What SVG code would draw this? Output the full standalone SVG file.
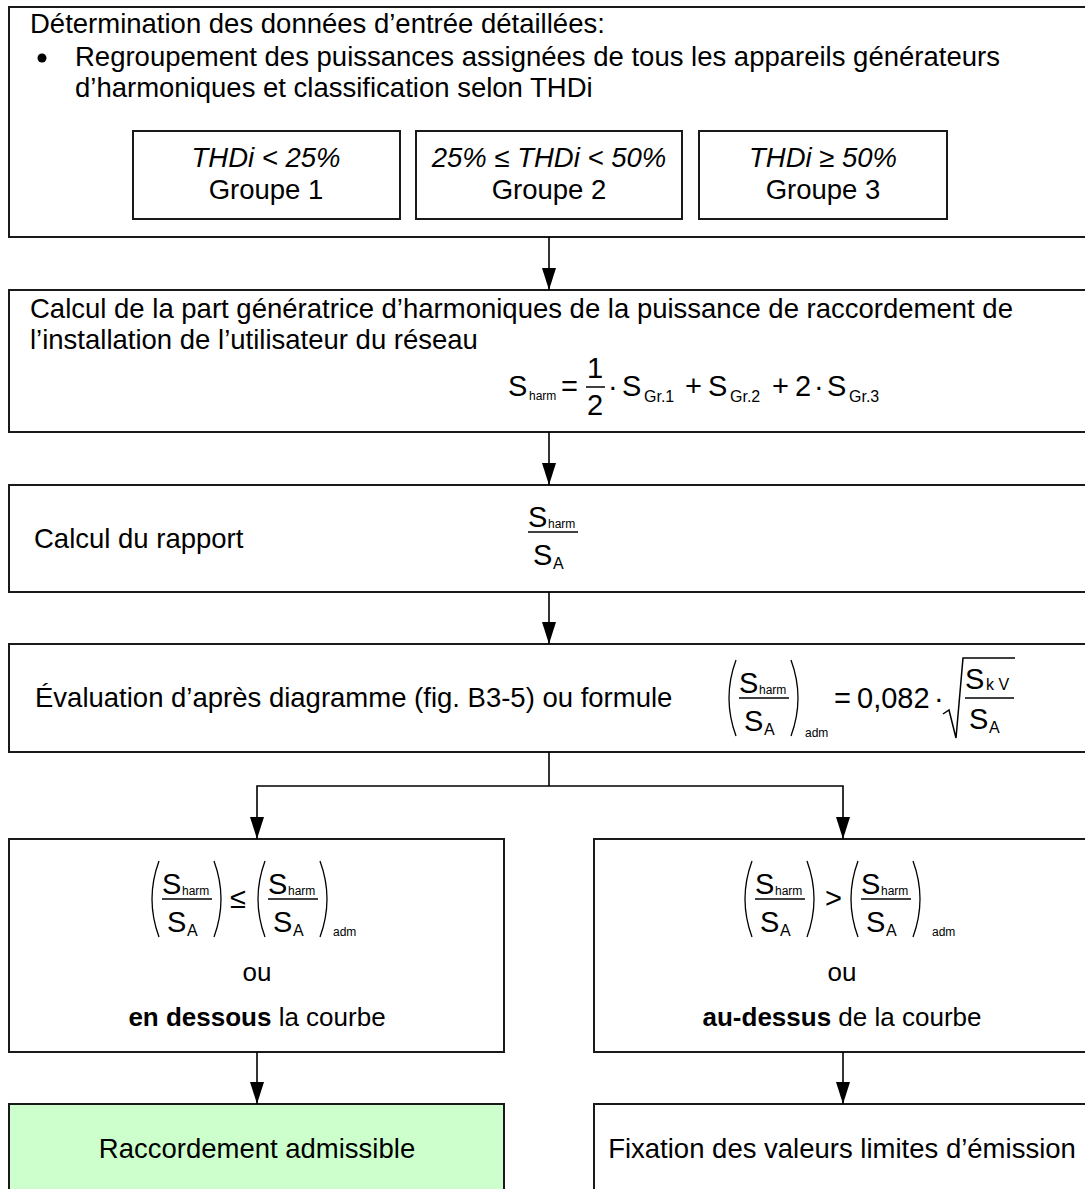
<svg xmlns="http://www.w3.org/2000/svg" xmlns:xlink="http://www.w3.org/1999/xlink" width="1085" height="1189" viewBox="0 0 1085 1189">
<style>
.box{fill:#fff;stroke:#1a1a1a;stroke-width:2}
.green{fill:#ccffcc;stroke:#1a1a1a;stroke-width:2}
.t{font-family:"Liberation Sans",Arial,sans-serif;font-size:27.5px;fill:#000}
.t2{font-family:"Liberation Sans",Arial,sans-serif;font-size:26px;fill:#000}
.i{font-style:italic}
.c{text-anchor:middle}
.b{font-weight:bold}
.m{font-family:"Liberation Sans",Arial,sans-serif;font-size:29px;fill:#000}
.s1{font-family:"Liberation Sans",Arial,sans-serif;font-size:12px;fill:#000}
.s2{font-family:"Liberation Sans",Arial,sans-serif;font-size:16px;fill:#000}
.bar{stroke:#000;stroke-width:1.5}
.par{fill:none;stroke:#000;stroke-width:1.3}
.con{fill:none;stroke:#000;stroke-width:1.6}
.arr{marker-end:url(#ah)}
</style>
<defs>
<marker id="ah" markerUnits="userSpaceOnUse" markerWidth="22" markerHeight="14" refX="22" refY="7" orient="auto">
<path d="M0,0 L22,7 L0,14 z" fill="#000"/>
</marker>
<g id="frac">
<text class="m" x="13" y="-5">S</text>
<text class="s1" x="33" y="-4">harm</text>
<line class="bar" x1="13" y1="0" x2="63" y2="0"/>
<text class="m" x="18" y="33">S</text>
<text class="s2" x="38" y="37">A</text>
</g>
<g id="ratio">
<use xlink:href="#frac"/>
<path class="par" d="M 10 -38 Q -4 0 10 38"/>
<path class="par" d="M 65 -38 Q 79 0 65 38"/>
</g>
</defs>

<rect width="1085" height="1189" fill="#fff"/>

<g id="n1">
<rect class="box" x="9" y="7" width="1090" height="230"/>
<text class="t" x="30" y="33">Détermination des données d’entrée détaillées:</text>
<circle cx="42" cy="58" r="4.5" fill="#000"/>
<text class="t" x="75" y="66">Regroupement des puissances assignées de tous les appareils générateurs</text>
<text class="t" x="75" y="97">d’harmoniques et classification selon THDi</text>
</g>
<g id="g1">
<rect class="box" x="133" y="131" width="267" height="88"/>
<text class="t i c" x="266" y="167">THDi &lt; 25%</text>
<text class="t c" x="266" y="199">Groupe 1</text>
</g>
<g id="g2">
<rect class="box" x="416" y="131" width="266" height="88"/>
<text class="t i c" x="549" y="167">25% ≤ THDi &lt; 50%</text>
<text class="t c" x="549" y="199">Groupe 2</text>
</g>
<g id="g3">
<rect class="box" x="699" y="131" width="248" height="88"/>
<text class="t i c" x="823" y="167">THDi ≥ 50%</text>
<text class="t c" x="823" y="199">Groupe 3</text>
</g>

<g id="n2">
<rect class="box" x="9" y="290" width="1090" height="142"/>
<text class="t" x="30" y="318">Calcul de la part génératrice d’harmoniques de la puissance de raccordement de</text>
<text class="t" x="30" y="349">l’installation de l’utilisateur du réseau</text>
<text class="m" x="508" y="396">S</text>
<text class="s1" x="529" y="400">harm</text>
<text class="m" x="561" y="396">=</text>
<text class="m c" x="595" y="378">1</text>
<line class="bar" x1="586" y1="387" x2="605" y2="387"/>
<text class="m c" x="595" y="415">2</text>
<text class="m" x="608" y="396">·</text>
<text class="m" x="622" y="396">S</text>
<text class="s2" x="644" y="402">Gr.1</text>
<text class="m" x="685" y="396">+</text>
<text class="m" x="708" y="396">S</text>
<text class="s2" x="730" y="402">Gr.2</text>
<text class="m" x="772" y="396">+</text>
<text class="m" x="795" y="396">2</text>
<text class="m" x="814" y="396">·</text>
<text class="m" x="827" y="396">S</text>
<text class="s2" x="849" y="402">Gr.3</text>
</g>

<g id="n3">
<rect class="box" x="9" y="485" width="1090" height="107"/>
<text class="t" x="34" y="548">Calcul du rapport</text>
<use xlink:href="#frac" x="515" y="532"/>
</g>

<g id="n4">
<rect class="box" x="9" y="644" width="1090" height="108"/>
<text class="t" x="35" y="707">Évaluation d’après diagramme (fig. B3-5) ou formule</text>
<use xlink:href="#ratio" x="726" y="698"/>
<text class="s1" x="805" y="737">adm</text>
<text class="m" x="834" y="708">=</text>
<text class="m" x="857" y="708">0,082</text>
<text class="m" x="934" y="708">·</text>
<path d="M 943 714 L 949 710 L 956 738 L 963 658 L 1015 658" fill="none" stroke="#000" stroke-width="1.5"/>
<text class="m" x="965" y="689">S</text>
<text class="s2" x="986" y="690">k V</text>
<line class="bar" x1="965" y1="698" x2="1014" y2="698"/>
<text class="m" x="969" y="729">S</text>
<text class="s2" x="989" y="733">A</text>
</g>

<g id="n5">
<rect class="box" x="9" y="839" width="495" height="213"/>
<use xlink:href="#ratio" x="149" y="899"/>
<text class="m" x="230" y="908">≤</text>
<use xlink:href="#ratio" x="255" y="899"/>
<text class="s1" x="333" y="936">adm</text>
<text class="t2 c" x="257" y="981">ou</text>
<text class="t2 c" x="257" y="1026"><tspan class="b">en dessous</tspan> la courbe</text>
</g>

<g id="n6">
<rect class="box" x="594" y="839" width="496" height="213"/>
<use xlink:href="#ratio" x="742" y="899"/>
<text class="m" x="825" y="908">&gt;</text>
<use xlink:href="#ratio" x="848" y="899"/>
<text class="s1" x="932" y="936">adm</text>
<text class="t2 c" x="842" y="981">ou</text>
<text class="t2 c" x="842" y="1026"><tspan class="b">au-dessus</tspan> de la courbe</text>
</g>

<g id="n7">
<rect class="green" x="9" y="1104" width="495" height="100"/>
<text class="t c" x="257" y="1158">Raccordement admissible</text>
</g>

<g id="n8">
<rect class="box" x="594" y="1104" width="496" height="100"/>
<text class="t c" x="842" y="1158">Fixation des valeurs limites d’émission</text>
</g>

<g id="connectors">
<line class="con arr" x1="549" y1="237" x2="549" y2="290"/>
<line class="con arr" x1="549" y1="432" x2="549" y2="485"/>
<line class="con arr" x1="549" y1="592" x2="549" y2="644"/>
<polyline class="con" points="549,752 549,786"/>
<polyline class="con arr" points="549,786 257,786 257,839"/>
<polyline class="con arr" points="549,786 843,786 843,839"/>
<line class="con arr" x1="257" y1="1052" x2="257" y2="1104"/>
<line class="con arr" x1="843" y1="1052" x2="843" y2="1104"/>
</g>
</svg>
